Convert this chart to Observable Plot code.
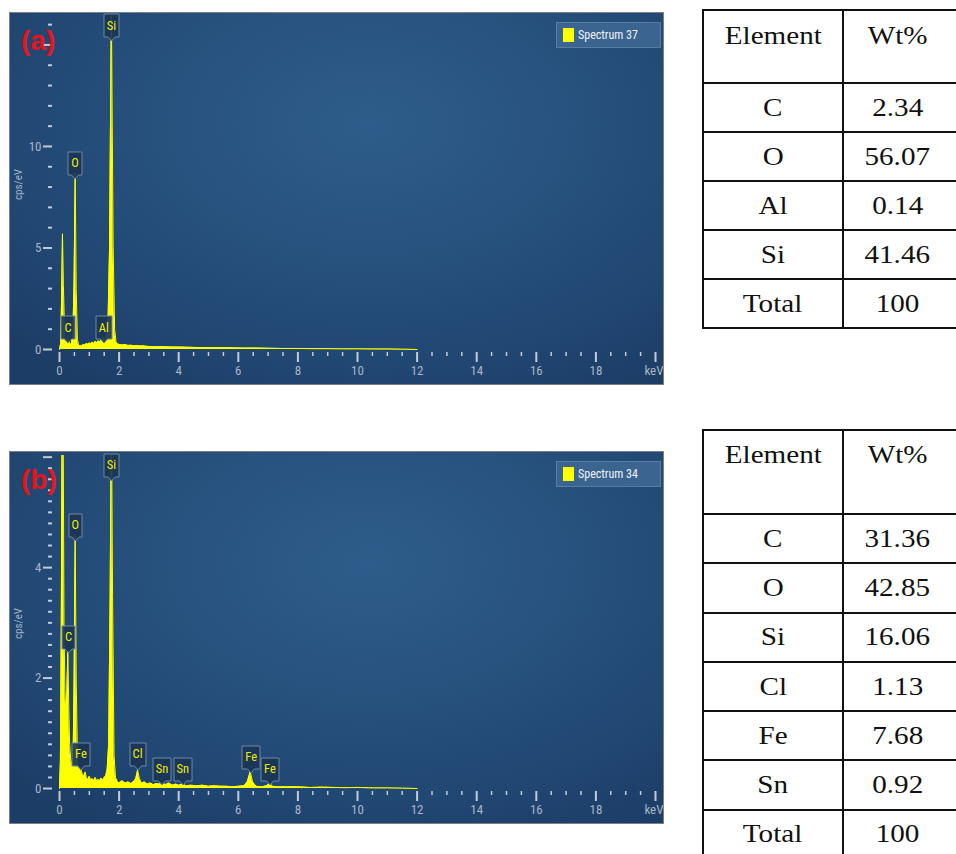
<!DOCTYPE html>
<html><head><meta charset="utf-8">
<script src="https://cdn.jsdelivr.net/npm/d3@7"></script>
<script src="https://cdn.jsdelivr.net/npm/@observablehq/plot@0.6"></script>
<style>
html,body{margin:0;padding:0;background:#fff;}
#page{position:relative;width:956px;height:854px;overflow:hidden;}
.panel{position:absolute;left:10px;width:653px;height:371px;outline:1px solid #7d7f82;}
.panel svg{display:block;}
.tag{position:absolute;left:21px;font:bold 28px "Liberation Sans",Arial,sans-serif;color:#e8141b;line-height:28px;}
.legend{position:absolute;left:556px;width:105px;height:26px;background:#3b6490;border:1px solid #587ca2;box-sizing:border-box;font:12px "Liberation Sans Narrow","Roboto Condensed",Roboto,sans-serif;color:#eef3f8;}
.legend .sw{position:absolute;left:6px;top:5px;width:11px;height:14px;background:#ffff00;}
.legend .lt{position:absolute;left:21px;top:5px;line-height:14px;}
table.eds{position:absolute;left:702px;width:262px;border-collapse:collapse;table-layout:fixed;font-family:"Liberation Serif","Times New Roman",serif;font-size:26px;color:#111;}
table.eds td{border:2px solid #111;text-align:center;padding:0;vertical-align:middle;}
table.eds td + td{padding-right:13px;}
table.eds td span{display:inline-block;transform:scaleX(1.12);}
table.eds tr.hd td{vertical-align:top;}
</style></head>
<body>
<div id="page"></div>
<script>
// ---------- data ----------
const xMajorTicks = [0,2,4,6,8,10,12,14,16,18,20];

// Spectrum 37 (a)
const energyA = [0,0.04,0.07,0.1,0.13,0.17,0.2,0.24,0.28,0.32,0.36,0.4,0.45,0.49,0.525,0.56,0.6,0.65,0.7,0.75,0.8,0.85,0.9,0.95,1.0,1.05,1.1,1.15,1.2,1.25,1.3,1.35,1.4,1.45,1.49,1.53,1.58,1.63,1.68,1.74,1.8,1.85,1.9,1.95,2.0,2.1,2.2,2.3,2.4,2.5,2.6,2.7,2.8,2.9,3.0,3.2,3.4,3.6,3.8,4.0,4.3,4.6,5.0,5.4,5.8,6.2,6.6,7.0,7.5,8.0,8.5,9.0,9.5,10.0,10.5,11.0,11.5,12.0];
const countsA = [0,0.3,2.5,5.7,3.2,0.9,0.4,0.35,0.7,0.4,0.25,0.3,0.8,3.5,8.7,3.0,0.5,0.15,0.2,0.18,0.25,0.22,0.3,0.26,0.32,0.28,0.36,0.3,0.4,0.34,0.42,0.38,0.45,0.5,0.58,0.52,0.75,1.5,5,17,5,1.0,0.35,0.28,0.25,0.22,0.24,0.2,0.21,0.18,0.2,0.17,0.18,0.16,0.15,0.14,0.15,0.13,0.12,0.12,0.11,0.1,0.09,0.09,0.08,0.07,0.07,0.06,0.05,0.05,0.04,0.04,0.03,0.03,0.02,0.02,0.01,0];
const peakNamesA = ["C","O","Al","Si"];
const peakKevA = [0.285,0.52,1.49,1.74];
const peakTipA = [0.3,8.42,0.3,15.17];
const yMajorA = [0,5,10,15];
const yLabelsA = [0,5,10];
const yMinorA = [1,2,3,4,6,7,8,9,11,12,13,14,16];

// Spectrum 34 (b)
const energyB = [0,0.03,0.06,0.09,0.12,0.15,0.18,0.21,0.24,0.28,0.31,0.34,0.38,0.42,0.46,0.49,0.525,0.56,0.6,0.64,0.68,0.71,0.74,0.78,0.82,0.86,0.9,0.95,1.0,1.05,1.1,1.15,1.2,1.25,1.3,1.35,1.4,1.45,1.5,1.55,1.6,1.65,1.7,1.74,1.78,1.83,1.88,1.95,2.0,2.1,2.2,2.3,2.4,2.5,2.56,2.62,2.68,2.75,2.85,2.95,3.05,3.15,3.25,3.35,3.44,3.55,3.66,3.8,3.9,4.0,4.13,4.25,4.4,4.6,4.8,5.0,5.2,5.4,5.6,5.8,6.0,6.2,6.3,6.4,6.48,6.6,6.8,6.95,7.06,7.15,7.3,7.6,8.0,8.4,8.8,9.2,9.6,10.0,10.5,11.0,11.5,12.0];
const countsB = [0,0.5,3,7,7,3,1.8,1.4,1.6,2.5,1.5,0.8,0.5,0.45,0.7,2.0,4.6,2.0,0.6,0.35,0.4,0.36,0.3,0.25,0.22,0.3,0.2,0.16,0.22,0.15,0.18,0.14,0.2,0.13,0.17,0.14,0.19,0.15,0.2,0.22,0.35,0.8,3.5,7,3.5,0.6,0.2,0.12,0.1,0.14,0.1,0.12,0.09,0.13,0.18,0.33,0.18,0.1,0.12,0.08,0.1,0.07,0.09,0.08,0.11,0.07,0.1,0.06,0.08,0.06,0.08,0.05,0.06,0.05,0.06,0.04,0.05,0.04,0.04,0.03,0.04,0.05,0.12,0.3,0.12,0.04,0.03,0.05,0.09,0.04,0.03,0.03,0.03,0.02,0.025,0.02,0.015,0.02,0.01,0.01,0.005,0];
const peakNamesB = ["Si","O","C","Fe","Cl","Sn","Sn","Fe","Fe"];
const peakKevB = [1.74,0.53,0.3,0.72,2.62,3.44,4.14,6.43,7.06];
const peakTipB = [5.57,4.49,2.46,0.34,0.34,0.07,0.07,0.29,0.07];
const yMajorB = [0,2,4,6];
const yLabelsB = [0,2,4];
const yMinorB = [0.2,0.4,0.6,0.8,1,1.2,1.4,1.6,1.8,2.2,2.4,2.6,2.8,3,3.2,3.4,3.6,3.8,4.2,4.4,4.6,4.8,5,5.2,5.4,5.6,5.8];

// Tables
const tableElementsA = ["C","O","Al","Si","Total"];
const tableWtA = ["2.34","56.07","0.14","41.46","100"];
const tableElementsB = ["C","O","Si","Cl","Fe","Sn","Total"];
const tableWtB = ["31.36","42.85","16.06","1.13","7.68","0.92","100"];

// ---------- drawing ----------
const page = document.getElementById("page");
const axisFont = '"Liberation Sans Narrow","Roboto Condensed",Roboto,sans-serif';
const tickColor = "#c2ccd7";
const labelColor = "#a7b5c5";
const xMinorTicks = d3.range(0, 20.01, 0.5).filter(v => v % 2 !== 0);

function spectrum(top, energies, counts, names, kev, tips, yDomain, yMajor, yLabels, yMinor, tag, specName) {
  const data = energies.map((e, i) => ({e, v: counts[i]}));
  const peaks = names.map((n, i) => ({n, e: kev[i], tip: tips[i]}));
  const svg = Plot.plot({
    width: 653, height: 371,
    marginLeft: 42, marginRight: 6, marginTop: 3, marginBottom: 32,
    style: {
      background: "radial-gradient(ellipse 75% 85% at 55% 30%, #2e5d8b 0%, #28527f 40%, #214773 75%, #1c3d66 100%)",
      fontFamily: axisFont, fontSize: "13px", color: labelColor, overflow: "hidden"
    },
    x: {domain: [-0.235, 20.067]},
    y: {domain: yDomain},
    marks: [
      Plot.areaY(data, {x: "e", y: "v", fill: "#ffff00", clip: true}),
      Plot.lineY(data, {x: "e", y: "v", stroke: "#ffff00", strokeWidth: 1, clip: true}),
      Plot.axisX({ticks: xMinorTicks, tickSize: 4, tickFormat: () => "", stroke: tickColor, strokeWidth: 1.5, label: null}),
      Plot.axisX({ticks: xMajorTicks, tickSize: 10, tickPadding: 3, tickFormat: d => d === 20 ? "keV" : String(d), stroke: tickColor, strokeWidth: 2, fill: labelColor, label: null, fontSize: 13}),
      Plot.axisY({ticks: yMinor, tickSize: 4, tickFormat: () => "", stroke: tickColor, strokeWidth: 2, label: null}),
      Plot.axisY({ticks: yMajor, tickSize: 9, tickPadding: 2, tickFormat: d => yLabels.includes(d) ? String(d) : "", stroke: tickColor, strokeWidth: 2, fill: labelColor,
        label: "cps/eV", labelAnchor: "center", labelOffset: 38, labelArrow: "none", fontSize: 13}),
      Plot.text(peaks, {x: "e", y: "tip", text: "n", dy: -15.5, fill: "#eeee00", fontSize: 12.5})
    ]
  });
  const div = document.createElement("div");
  div.className = "panel";
  div.style.top = top + "px";
  div.appendChild(svg);
  page.appendChild(div);
  try { boxLabels(svg); } catch (e) { console.error(e); }

  const t = document.createElement("div");
  t.className = "tag";
  t.style.top = (top + 14) + "px";
  t.textContent = tag;
  page.appendChild(t);

  const lg = document.createElement("div");
  lg.className = "legend";
  lg.style.top = (top + 9) + "px";
  lg.innerHTML = '<div class="sw"></div><div class="lt"></div>';
  lg.querySelector(".lt").textContent = specName;
  page.appendChild(lg);
}

function boxLabels(svg) {
  const ns = "http://www.w3.org/2000/svg";
  const groups = svg.querySelectorAll('g[aria-label="text"]');
  const sr = svg.getBoundingClientRect();
  groups.forEach(g => {
    const bg = document.createElementNS(ns, "g");
    g.parentNode.insertBefore(bg, g);
    g.querySelectorAll("text").forEach(t => {
      const r = t.getBoundingClientRect();
      const x0 = Math.round(r.left - sr.left) - 3, x1 = Math.round(r.right - sr.left) + 3;
      const cy = Math.round(r.top - sr.top + r.height / 2) + 0.5;
      const y0 = cy - 11.5, y1 = cy + 11.5, cx = (x0 + x1) / 2;
      const p = document.createElementNS(ns, "path");
      p.setAttribute("d", `M${x0},${y0}H${x1}V${y1}H${cx + 3.5}L${cx},${y1 + 4}L${cx - 3.5},${y1}H${x0}Z`);
      p.setAttribute("fill", "#1b3555");
      p.setAttribute("fill-opacity", "0.92");
      p.setAttribute("stroke", "#6f89a5");
      p.setAttribute("stroke-width", "1");
      bg.appendChild(p);
    });
  });
  svg.querySelectorAll('g[aria-label="x-axis tick label"] text').forEach(t => {
    if (t.textContent === "keV") t.setAttribute("text-anchor", "end"), t.setAttribute("dx", "8");
  });
  svg.querySelectorAll('g[aria-label="y-axis label"] text').forEach(t => t.setAttribute("font-size", "11"));
}

spectrum(13, energyA, countsA, peakNamesA, peakKevA, peakTipA, [-0.148, 16.4], yMajorA, yLabelsA, yMinorA, "(a)", "Spectrum 37");
spectrum(452, energyB, countsB, peakNamesB, peakKevB, peakTipB, [-0.054, 6.03], yMajorB, yLabelsB, yMinorB, "(b)", "Spectrum 34");

function table(top, elements, wts, headH, rowH, padTop) {
  const tb = document.createElement("table");
  tb.className = "eds";
  tb.style.top = top + "px";
  const cg = document.createElement("colgroup");
  cg.innerHTML = '<col style="width:140px"><col style="width:122px">';
  tb.appendChild(cg);
  const hr = tb.insertRow();
  hr.className = "hd";
  hr.style.height = headH + "px";
  ["Element", "Wt%"].forEach(h => {
    const c = hr.insertCell();
    c.style.paddingTop = padTop + "px";
    const s = document.createElement("span"); s.textContent = h; c.appendChild(s);
  });
  elements.forEach((el, i) => {
    const r = tb.insertRow();
    r.style.height = rowH + "px";
    [el, wts[i]].forEach(v => {
      const c = r.insertCell();
      const s = document.createElement("span"); s.textContent = v; c.appendChild(s);
    });
  });
  page.appendChild(tb);
}
table(9, tableElementsA, tableWtA, 73, 49, 10);
table(429, tableElementsB, tableWtB, 84, 49.3, 9);
</script>
</body></html>
